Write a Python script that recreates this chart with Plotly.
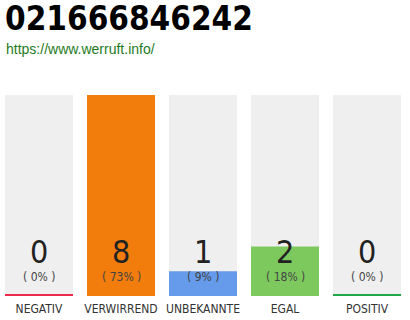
import plotly.graph_objects as go

title = "021666846242"
link = "https://www.werruft.info/"
categories = ["NEGATIV", "VERWIRREND", "UNBEKANNTE", "EGAL", "POSITIV"]
counts = [0, 8, 1, 2, 0]
percents = [0, 73, 9, 18, 0]
colors = ["#e8294b", "#f27d0c", "#659bea", "#7dc95e", "#22a64a"]

FONT = "DejaVu Sans Condensed, Liberation Sans, sans-serif"
maxp = max(percents)

fig = go.Figure()
# background bars
fig.add_trace(go.Bar(x=categories, y=[maxp] * len(categories), marker_color="#efefef",
                     marker_line_width=0, hoverinfo="skip", showlegend=False))
# value bars (zero values shown as thin baseline)
vals = [p if p > 0 else maxp * 0.01 for p in percents]
fig.add_trace(go.Bar(x=categories, y=vals, marker_color=colors,
                     marker_line_width=0, hoverinfo="skip", showlegend=False))

ann = []
for c, n, p in zip(categories, counts, percents):
    ann.append(dict(x=c, y=0.219, xref="x", yref="paper", text=str(n), showarrow=False,
                    font=dict(family=FONT, size=32, color="#222", weight=300), yanchor="middle"))
    ann.append(dict(x=c, y=0.094, xref="x", yref="paper", text=f"( {p}% )", showarrow=False,
                    font=dict(family=FONT, size=12, color="#444"), yanchor="middle"))
ann.append(dict(x=0, y=(296 - 19) / 201, xref="paper", yref="paper", text=f"<b>{title}</b>",
                showarrow=False, xanchor="left", yanchor="middle", xshift=3,
                font=dict(family=FONT, size=33, color="#000")))
ann.append(dict(x=0, y=(296 - 49) / 201, xref="paper", yref="paper", text=link,
                showarrow=False, xanchor="left", yanchor="middle", xshift=4,
                font=dict(family="Liberation Sans", size=14, color="#1e7b1e")))

fig.update_layout(
    width=410, height=320, margin=dict(l=0, r=0, t=95, b=24),
    paper_bgcolor="white", plot_bgcolor="white",
    barmode="overlay", bargap=0.171,
    annotations=ann,
    xaxis=dict(range=[-39 / 82, 371 / 82], showgrid=False, zeroline=False, showline=False,
               ticks="", tickangle=0, automargin=False, ticklabelstandoff=4,
               tickfont=dict(family=FONT, size=12, color="#333"), fixedrange=True),
    yaxis=dict(range=[0, maxp], visible=False, fixedrange=True),
)
fig.write_html("out.html")
